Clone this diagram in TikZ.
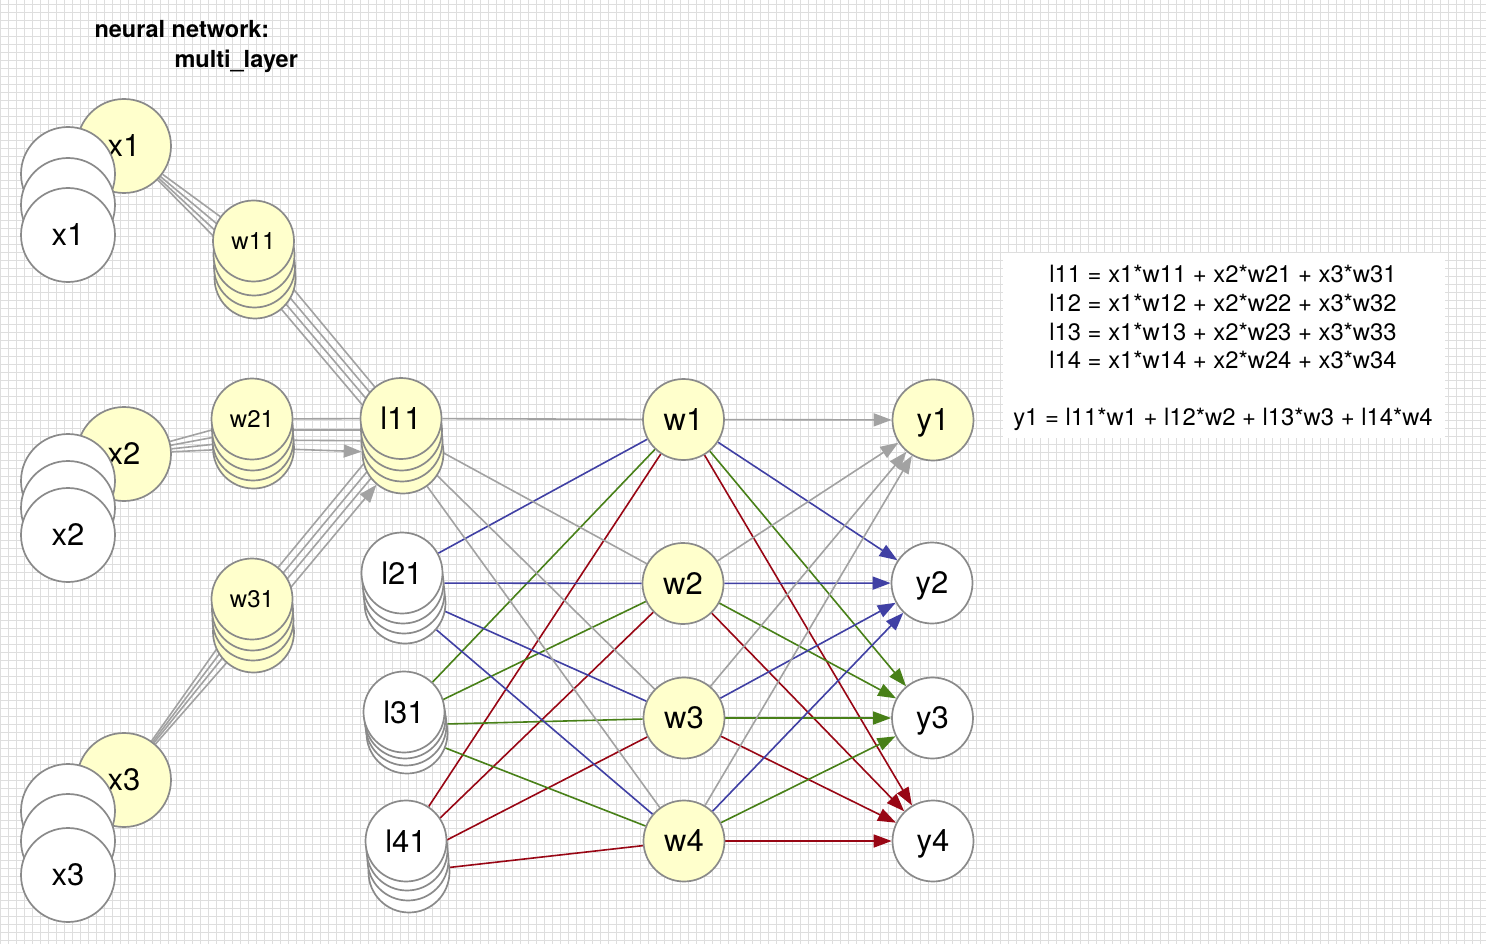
\documentclass[tikz,border=0pt]{standalone}
\usepackage{fontspec}
\setmainfont{TeX Gyre Heros}
\usetikzlibrary{arrows.meta}
\pgfdeclarelayer{gridlayer}
\pgfdeclarelayer{edgelayer}
\pgfsetlayers{gridlayer,edgelayer,main}

\definecolor{nodefill}{RGB}{255,255,204}
\definecolor{nodeline}{RGB}{138,138,138}
\definecolor{gridline}{RGB}{222,222,222}
\definecolor{edgegrey}{RGB}{162,162,162}
\definecolor{edgeblue}{RGB}{64,64,164}
\definecolor{edgegreen}{RGB}{72,128,24}
\definecolor{edgered}{RGB}{152,6,20}

\tikzset{
  neuron/.style={circle, draw=nodeline, line width=1.7pt, inner sep=0pt, text depth=0pt},
  bigneuron/.style={neuron, minimum size=94pt, font=\fontsize{31}{33}\selectfont},
  midneuron/.style={neuron, minimum size=81pt, font=\fontsize{31}{33}\selectfont},
  wneuron/.style={neuron, minimum size=81pt, font=\fontsize{24}{26}\selectfont},
  yellowfill/.style={fill=nodefill},
  whitefill/.style={fill=white},
  wire/.style={draw=edgegrey, line width=1.6pt},
  arrowed/.style={-{Triangle[length=18pt,width=13pt]}},
  titletext/.style={anchor=base west, font=\bfseries\fontsize{23.5}{25}\selectfont},
  eqtext/.style={anchor=base, font=\fontsize{23.8}{28}\selectfont},
}

\begin{document}
\begin{tikzpicture}[x=1pt,y=-1pt]
\useasboundingbox (0,0) rectangle (1486,944);

% squared paper background and the white panel behind the equations
\begin{pgfonlayer}{gridlayer}
  \fill[white] (0,0) rectangle (1486,944);
  \foreach \gx in {0,...,185}
    \draw[gridline, line width=1pt] ({0.5+8*\gx},0) -- ({0.5+8*\gx},944);
  \foreach \gy in {0,...,117}
    \draw[gridline, line width=1pt] (0,{4.5+8*\gy}) -- (1486,{4.5+8*\gy});
  \fill[white] (1003,253) rectangle (1445,438);
\end{pgfonlayer}

% title
\node[titletext] (title1) at (91,38) {neural network:};
\node[titletext] (title2) at (171,68) {multi\_layer};

% input x1
\node[bigneuron, yellowfill] (x1) at (124,146) {x1};
\node[bigneuron, whitefill] (x1c) at (68,174) {};
\node[bigneuron, whitefill] (x1b) at (68,205) {};
\node[bigneuron, whitefill] (x1a) at (68,235) {x1};
% input x2
\node[bigneuron, yellowfill] (x2) at (124,454) {x2};
\node[bigneuron, whitefill] (x2c) at (68,481) {};
\node[bigneuron, whitefill] (x2b) at (68,508) {};
\node[bigneuron, whitefill] (x2a) at (68,535) {x2};
% input x3
\node[bigneuron, yellowfill] (x3) at (124,780) {x3};
\node[bigneuron, whitefill] (x3c) at (68,811) {};
\node[bigneuron, whitefill] (x3b) at (68,841) {};
\node[bigneuron, whitefill] (x3a) at (68,875) {x3};

% first-layer weight stacks (back to front)
\node[wneuron, yellowfill] (w1d) at (255,278) {};
\node[wneuron, yellowfill] (w1c) at (254.5,267) {};
\node[wneuron, yellowfill] (w1b) at (254,255) {};
\node[wneuron, yellowfill] (w1a) at (253.5,241) {w11};

\node[wneuron, yellowfill] (w2d) at (253.5,448) {};
\node[wneuron, yellowfill] (w2c) at (253,440) {};
\node[wneuron, yellowfill] (w2b) at (252.5,430) {};
\node[wneuron, yellowfill] (w2a) at (252,419) {w21};

\node[wneuron, yellowfill] (w3d) at (253.5,632) {};
\node[wneuron, yellowfill] (w3c) at (253,620) {};
\node[wneuron, yellowfill] (w3b) at (252.5,610) {};
\node[wneuron, yellowfill] (w3a) at (252,599) {w31};

% hidden-layer stacks (back to front)
\node[midneuron, yellowfill] (l1d) at (403,453) {};
\node[midneuron, yellowfill] (l1c) at (402,441) {};
\node[midneuron, yellowfill] (l1b) at (401.5,430) {};
\node[midneuron, yellowfill] (l1a) at (401,418.5) {l11};

\node[midneuron, whitefill] (l2d) at (405,603) {};
\node[midneuron, whitefill] (l2c) at (404,593) {};
\node[midneuron, whitefill] (l2b) at (403,583) {};
\node[midneuron, whitefill] (l2a) at (402,573) {l21};

\node[midneuron, whitefill] (l3d) at (407,733) {};
\node[midneuron, whitefill] (l3c) at (406,725) {};
\node[midneuron, whitefill] (l3b) at (405,718) {};
\node[midneuron, whitefill] (l3a) at (404,712) {l31};

\node[midneuron, whitefill] (l4d) at (409,872) {};
\node[midneuron, whitefill] (l4c) at (408,860) {};
\node[midneuron, whitefill] (l4b) at (407,850) {};
\node[midneuron, whitefill] (l4a) at (406,841) {l41};

% second-layer weights
\node[midneuron, yellowfill] (o1) at (683.5,419.5) {w1};
\node[midneuron, yellowfill] (o2) at (683,583.5) {w2};
\node[midneuron, yellowfill] (o3) at (684,718) {w3};
\node[midneuron, yellowfill] (o4) at (684,841) {w4};

% outputs
\node[midneuron, yellowfill] (y1) at (933,420) {y1};
\node[midneuron, whitefill] (y2) at (932,583) {y2};
\node[midneuron, whitefill] (y3) at (932.5,718) {y3};
\node[midneuron, whitefill] (y4) at (933,841) {y4};

% equations
\node[eqtext] (eq1) at (1223,283) {l11 = x1*w11 + x2*w21 + x3*w31};
\node[eqtext] (eq2) at (1223,311.5) {l12 = x1*w12 + x2*w22 + x3*w32};
\node[eqtext] (eq3) at (1223,340) {l13 = x1*w13 + x2*w23 + x3*w33};
\node[eqtext] (eq4) at (1223,368.5) {l14 = x1*w14 + x2*w24 + x3*w34};
\node[eqtext] (eq5) at (1223,425.5) {y1 = l11*w1 + l12*w2 + l13*w3 + l14*w4};

% connections, kept beneath the circles
\begin{pgfonlayer}{edgelayer}
  \foreach \s in {a,b,c,d} {
    \draw[wire] (x1) -- (w1\s);
    \draw[wire] (x2) -- (w2\s);
    \draw[wire] (x3) -- (w3\s);
  }
  \foreach \s in {a,b,c} {
    \draw[wire] (w1\s) -- (l1\s);
    \draw[wire] (w2\s) -- (l1\s);
    \draw[wire] (w3\s) -- (l1\s);
  }
  \draw[wire] (w1d) -- (l1d);
  \draw[wire, arrowed] (w2d) -- (l1d);
  \draw[wire, arrowed] (w3d) -- (l1d);

  \foreach \s [count=\k] in {a,b,c,d} {
    \draw[wire] (l1\s) -- (o\k);
    \draw[wire, draw=edgeblue] (l2\s) -- (o\k);
    \draw[wire, draw=edgegreen] (l3\s) -- (o\k);
    \draw[wire, draw=edgered] (l4\s) -- (o\k);
  }
  \foreach \k in {1,...,4} {
    \draw[wire, arrowed] (o\k) -- (y1);
    \draw[wire, draw=edgeblue, arrowed] (o\k) -- (y2);
    \draw[wire, draw=edgegreen, arrowed] (o\k) -- (y3);
    \draw[wire, draw=edgered, arrowed] (o\k) -- (y4);
  }
\end{pgfonlayer}
\end{tikzpicture}
\end{document}
